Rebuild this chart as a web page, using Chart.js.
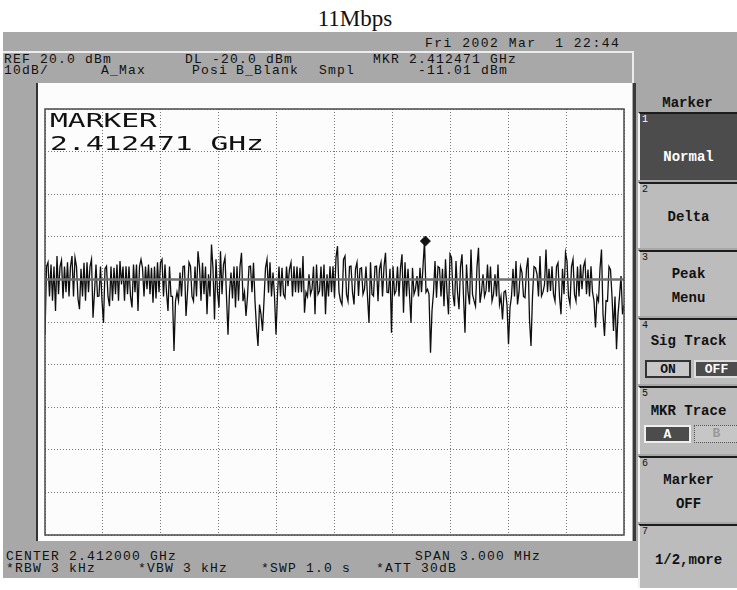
<!DOCTYPE html>
<html lang="en">
<head>
<meta charset="UTF-8">
<title>11Mbps - Spectrum</title>
<script src="https://cdn.jsdelivr.net/npm/chart.js"></script>
<style>
  body { margin:0; width:737px; height:590px; position:relative; overflow:hidden; background:#fff; font-family:'Liberation Mono', monospace; color:#111; }
  .abs { position:absolute; white-space:pre; }
  #title { left:255px; width:200px; top:5px; text-align:center; font-family:'Liberation Serif', serif; font-size:23px; line-height:28px; color:#111; }
  #screen { left:3px; top:32px; width:734px; height:546px; background:#a8a8a8; }
  #hdrline { left:3px; top:51px; width:630px; height:2px; background:#ececec; }
  #hdrside { left:632px; top:51px; width:2px; height:32px; background:#ececec; }
  #inner { left:36px; top:83px; width:596px; height:458px; background:#fcfcfc; border-left:2px solid #333; box-sizing:border-box; }
  #innerR { left:633px; top:83px; width:3px; height:458px; background:#3a3a3a; }
  .t { font-size:13px; line-height:13px; letter-spacing:1.2px; }
  #wrap { left:36px; top:83px; width:596px; height:458px; }
  .big { font-family:'DejaVu Sans Mono', monospace; font-size:20px; line-height:22px; transform:scaleX(1.48); transform-origin:left center; color:#111; }
  .key { position:absolute; left:638px; width:99px; background:#bcbcbc; border-top:2px solid #1c1c1c; border-left:2px solid #f2f2f2; box-sizing:border-box; }
  .key.dark { background:#4c4c4c; color:#fff; }
  .num { position:absolute; left:2px; top:1px; font-size:10px; line-height:10px; }
  .lbl { position:absolute; left:0; width:97px; text-align:center; font-size:14px; line-height:14px; font-weight:bold; }
  .box { position:absolute; height:18px; box-sizing:border-box; text-align:center; font-size:13px; line-height:15px; font-weight:bold; }
</style>
</head>
<body>
<div id="title" class="abs">11Mbps</div>
<div id="screen" class="abs"></div>
<div id="hdrline" class="abs"></div>
<div id="hdrside" class="abs"></div>

<div class="abs t" style="left:425px; top:37px; letter-spacing:1.5px;">Fri 2002 Mar  1 22:44</div>
<div class="abs t" style="left:4px; top:53px;">REF 20.0 dBm</div>
<div class="abs t" style="left:185px; top:53px;">DL -20.0 dBm</div>
<div class="abs t" style="left:373px; top:53px;">MKR 2.412471 GHz</div>
<div class="abs t" style="left:4px; top:64px;">10dB/</div>
<div class="abs t" style="left:101px; top:64px;">A_Max</div>
<div class="abs t" style="left:192px; top:64px;">Posi</div>
<div class="abs t" style="left:236px; top:64px;">B_Blank</div>
<div class="abs t" style="left:319px; top:64px;">Smpl</div>
<div class="abs t" style="left:418px; top:64px;">-11.01 dBm</div>

<div id="inner" class="abs"></div>
<div id="innerR" class="abs"></div>
<div id="wrap" class="abs"><canvas id="spectrum" width="596" height="458"></canvas></div>

<div class="abs big" style="left:50px; top:109px;">MARKER</div>
<div class="abs big" style="left:50px; top:132px;">2.412471 GHz</div>

<div class="abs t" style="left:6px; top:550px;">CENTER 2.412000 GHz</div>
<div class="abs t" style="left:415px; top:550px;">SPAN 3.000 MHz</div>
<div class="abs t" style="left:6px; top:562px;">*RBW 3 kHz</div>
<div class="abs t" style="left:138px; top:562px;">*VBW 3 kHz</div>
<div class="abs t" style="left:261px; top:562px;">*SWP 1.0 s</div>
<div class="abs t" style="left:376px; top:562px;">*ATT 30dB</div>

<!-- soft keys -->
<div class="abs" style="left:638px; top:96px; width:99px; text-align:center; font-size:14px; line-height:14px; font-weight:bold;">Marker</div>
<div class="key dark" style="top:112px; height:68px;"><span class="num">1</span><span class="lbl" style="top:36px;">Normal</span></div>
<div class="key" style="top:182px; height:66px;"><span class="num">2</span><span class="lbl" style="top:26px;">Delta</span></div>
<div class="key" style="top:250px; height:66px;"><span class="num">3</span><span class="lbl" style="top:15px;">Peak</span><span class="lbl" style="top:39px;">Menu</span></div>
<div class="key" style="top:318px; height:66px;"><span class="num">4</span><span class="lbl" style="top:14px;">Sig Track</span>
  <span class="box" style="left:5px; top:40px; width:46px; border:2px solid #333; background:#c8c8c8;">ON</span>
  <span class="box" style="left:54px; top:40px; width:45px; border:2px solid #ddd; background:#4c4c4c; color:#fff;">OFF</span></div>
<div class="key" style="top:386px; height:68px;"><span class="num">5</span><span class="lbl" style="top:16px;">MKR Trace</span>
  <span class="box" style="left:4px; top:37px; width:47px; border:2px solid #eee; background:#4c4c4c; color:#fff;">A</span>
  <span class="box" style="left:54px; top:37px; width:45px; border:1px dotted #555; background:#c6c6c6; color:#999;">B</span></div>
<div class="key" style="top:456px; height:66px;"><span class="num">6</span><span class="lbl" style="top:15px;">Marker</span><span class="lbl" style="top:39px;">OFF</span></div>
<div class="key" style="top:524px; height:64px;"><span class="num">7</span><span class="lbl" style="top:27px;">1/2,more</span></div>

<script>
// analyzer settings
const startMHz = 2410.5;   // CENTER 2.412000 GHz, SPAN 3.000 MHz
const stopMHz = 2413.5;
const refLevel = 20;       // REF 20.0 dBm, 10 dB/div
const bottomLevel = -80;
const displayLine = -20;   // DL -20.0 dBm
const markerMHz = 2412.471;
const markerLevel = -11.01;

// trace A (dBm), one value per sweep point
const traceLevels = [
  -33, -17, -16, -24, -16.5, -25, -17, -27.4, -14.5, -23.5,
  -17, -15.5, -24.5, -17, -23, -16, -24, -17, -14.5, -24,
  -14.9, -17, -24.5, -27, -17.5, -24, -16.1, -25, -16, -23,
  -17, -15.3, -29, -23, -16.5, -24, -23.9, -17, -25, -30.2,
  -17.5, -16.9, -24, -26.3, -17, -25, -17.3, -23.5, -16.5, -25,
  -15.7, -21.2, -17, -25, -16.9, -23.5, -17, -24, -26.6, -16.5,
  -23, -16.5, -27.4, -17, -15.3, -17.3, -24, -17, -22.3, -16.5,
  -23.5, -17.3, -25.5, -17, -24.5, -16, -23, -16, -15.3, -24,
  -16.5, -23, -27.4, -17, -24, -24, -36.8, -25.1, -23, -25,
  -18.4, -24, -17, -16.9, -28.6, -23, -16, -16.9, -24, -25.1,
  -17, -24, -13.4, -17, -25, -16.1, -23.5, -17, -28.2, -18.8,
  -24, -11.8, -17.5, -29.4, -15.3, -23, -26.6, -13.4, -23.5, -16.5,
  -14.9, -24, -33, -23, -18.4, -24.5, -17, -26.6, -16.9, -25,
  -17, -13.75, -25.1, -23, -28.6, -24, -17, -16.9, -23, -16.1,
  -25.1, -31.3, -35.6, -25.9, -28.2, -32.1, -25, -17.3, -15.3, -23.1,
  -16, -24, -18.4, -24, -32.9, -23.5, -17, -24, -17.3, -23.5,
  -24.3, -17, -21.6, -17.5, -16, -24, -16.9, -23, -17, -23.1,
  -17.3, -23, -14.5, -27.8, -23, -24, -18.8, -23.5, -22.3, -17,
  -28.2, -16.5, -23.5, -22.7, -17, -24, -16.5, -28.2, -18.8, -24,
  -16.9, -23, -16.9, -24.3, -14.9, -12.2, -23, -25, -25.9, -15.3,
  -14.5, -23.5, -25.1, -17, -16.9, -23, -25.9, -17.5, -16, -23.9,
  -17.5, -17.3, -23.5, -22.3, -17, -24, -30.2, -16, -23.5, -23.9,
  -17, -16.9, -25.1, -17.5, -16, -24, -17, -13.75, -23, -23.1,
  -17.5, -32.5, -16.9, -23.5, -22.7, -17, -24, -17.3, -14.1, -27.8,
  -16, -24, -17.5, -23.5, -30.2, -17.3, -23.5, -22.3, -19.2, -24,
  -17.3, -23, -17, -11.01, -23, -22.3, -23.5, -37.2, -27.4, -23,
  -15.7, -24.3, -17, -17.3, -24, -17.5, -26.3, -15.3, -23, -28.2,
  -14.1, -14.9, -23.5, -26.3, -15.7, -23, -27, -17, -14.1, -24,
  -32.5, -16.5, -23, -25.9, -13, -23.5, -25, -26.3, -17, -12.6,
  -25.5, -23, -18.8, -24, -22.7, -16.5, -23, -17, -25.1, -23.5,
  -18.8, -24, -16.5, -25.9, -24, -29.4, -23, -22.7, -26, -35.2,
  -26.6, -24, -17.5, -24, -15.7, -25.9, -23, -17, -18.4, -24,
  -24.3, -17.5, -14.9, -29.4, -35.6, -24, -17, -17.3, -18.8, -24,
  -14.5, -23.9, -23, -21.2, -13, -23, -17.5, -22.7, -16.9, -23.5,
  -25.1, -17, -16.1, -24, -28.2, -17.5, -23.5, -13.75, -15.7, -24,
  -25.9, -17, -15.3, -23.5, -25.1, -17, -24, -16.5, -22.3, -17,
  -15.7, -23.5, -17.7, -24, -16.9, -23, -25, -31.3, -24, -25.1,
  -17.5, -13, -28.2, -33.3, -25, -25.1, -17, -17.7, -24, -32.1,
  -24, -36.4, -28.2, -24, -19.2, -28.2, -26
];

const stepMHz = (stopMHz - startMHz) / (traceLevels.length - 1);
const tracePoints = traceLevels.map((v, i) => ({ x: startMHz + i * stepMHz, y: v }));

// solid frame round the graticule
const framePlugin = {
  id: 'frame',
  afterDraw(chart) {
    const a = chart.chartArea;
    const ctx = chart.ctx;
    ctx.save();
    ctx.strokeStyle = '#4a4a4a';
    ctx.lineWidth = 1.5;
    ctx.strokeRect(a.left, a.top, a.right - a.left, a.bottom - a.top);
    ctx.restore();
  }
};

new Chart(document.getElementById('spectrum'), {
  type: 'line',
  data: {
    datasets: [
      {
        label: 'MKR',
        data: [{ x: markerMHz, y: markerLevel }],
        showLine: false,
        pointStyle: 'rectRot',
        pointRadius: 5,
        pointBackgroundColor: '#111',
        pointBorderColor: '#111',
        order: 0
      },
      {
        label: 'DL',
        data: [{ x: startMHz, y: displayLine }, { x: stopMHz, y: displayLine }],
        borderColor: '#707070',
        borderWidth: 2.5,
        pointRadius: 0,
        order: 1
      },
      {
        label: 'A_Max',
        data: tracePoints,
        borderColor: '#0e0e0e',
        borderWidth: 1.3,
        pointRadius: 0,
        tension: 0,
        order: 2
      }
    ]
  },
  options: {
    responsive: false,
    animation: false,
    events: [],
    layout: { padding: { left: 9, top: 26, right: 8, bottom: 4 } },
    plugins: { legend: { display: false }, tooltip: { enabled: false } },
    scales: {
      x: {
        type: 'linear',
        min: startMHz,
        max: stopMHz,
        afterBuildTicks(scale) {
          const ticks = [];
          for (let i = 0; i <= 10; i++) ticks.push({ value: startMHz + i * (stopMHz - startMHz) / 10 });
          scale.ticks = ticks;
        },
        ticks: { display: false },
        grid: { color: '#777', lineWidth: 1, drawTicks: false },
        border: { display: false, dash: [1, 2] }
      },
      y: {
        min: bottomLevel,
        max: refLevel,
        ticks: { display: false, stepSize: 10 },
        grid: { color: '#777', lineWidth: 1, drawTicks: false },
        border: { display: false, dash: [1, 2] }
      }
    }
  },
  plugins: [framePlugin]
});
</script>
</body>
</html>
